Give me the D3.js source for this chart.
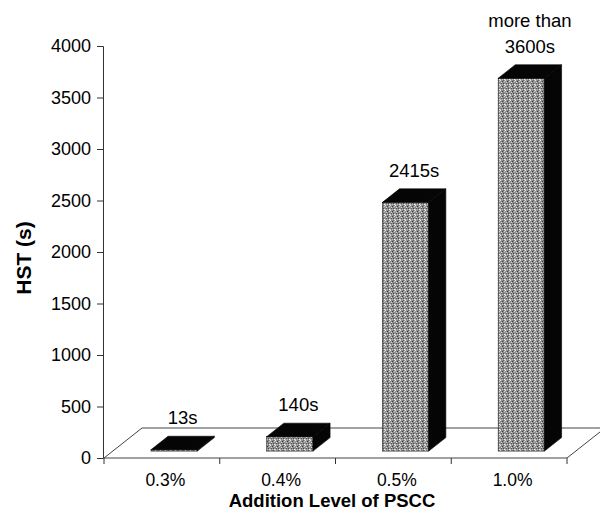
<!DOCTYPE html>
<html>
<head>
<meta charset="utf-8">
<script src="https://cdn.jsdelivr.net/npm/d3@7"></script>
<style>
  body { margin: 0; background: #fff; }
  text { font-family: Arial, "Liberation Sans", sans-serif; fill: #000; }
</style>
</head>
<body>
<svg id="chart" width="600" height="525"></svg>
<script>
(function () {
    'use strict';

    // data
    var categories = ['0.3%', '0.4%', '0.5%', '1.0%'];
    var values = [13, 140, 2415, 3620];
    var barLabels = [['13s'], ['140s'], ['2415s'], ['more than', '3600s']];
    var yTicks = [0, 500, 1000, 1500, 2000, 2500, 3000, 3500, 4000];

    var svg = d3.select('#chart');

    var x0 = 104, x1 = 567,
        yBase = 458, yTop = 46;

    // floor depth and where the bars sit inside it
    var floorDx = 38, floorDy = -30,
        frontFrac = 0.23, depthFrac = 0.45;

    var x = d3.scaleBand()
        .domain(categories)
        .range([x0, x1])
        .paddingInner(0.6)
        .paddingOuter(0.3)
        .align(0.55);

    var y = d3.scaleLinear()
        .domain([0, 4000])
        .range([yBase, yTop]);

    // speckled texture for the front faces
    var defs = svg.append('defs');
    var pat = defs.append('pattern')
        .attr('id', 'tex')
        .attr('patternUnits', 'userSpaceOnUse')
        .attr('width', 5)
        .attr('height', 5);
    pat.append('rect').attr('width', 5).attr('height', 5).attr('fill', '#8f8f8f');
    [[0, 0, '#e8e8e8'], [2, 1, '#3a3a3a'], [4, 1, '#cfcfcf'], [1, 2, '#d6d6d6'],
     [3, 3, '#4a4a4a'], [3, 0, '#6a6a6a'], [0, 4, '#c0c0c0'], [4, 4, '#f0f0f0'],
     [1, 3, '#5a5a5a'], [2, 4, '#b8b8b8']]
        .forEach(function (p) {
            pat.append('rect')
                .attr('x', p[0]).attr('y', p[1])
                .attr('width', 1).attr('height', 1)
                .attr('fill', p[2]);
        });

    // floor
    svg.append('polygon')
        .attr('points', [
            [x0, yBase], [x0 + floorDx, yBase + floorDy],
            [x1 + floorDx, yBase + floorDy], [x1, yBase]
        ].join(' '))
        .attr('fill', '#fff')
        .attr('stroke', '#444')
        .attr('stroke-width', 1);

    // x axis ticks at category boundaries
    var step = x.step();
    var bounds = d3.range(categories.length + 1).map(function (i) { return x0 + i * step; });
    svg.selectAll('.xtick')
        .data(bounds)
        .enter().append('line')
        .attr('x1', function (d) { return d; })
        .attr('x2', function (d) { return d; })
        .attr('y1', yBase)
        .attr('y2', yBase + 6)
        .attr('stroke', '#333');

    svg.selectAll('.xlab')
        .data(categories)
        .enter().append('text')
        .attr('x', function (d) { return x(d) + x.bandwidth() / 2; })
        .attr('y', 486)
        .attr('text-anchor', 'middle')
        .attr('font-size', 17.5)
        .text(function (d) { return d; });

    // bars
    var fdx = floorDx * frontFrac, fdy = floorDy * frontFrac,
        bdx = floorDx * depthFrac, bdy = floorDy * depthFrac,
        bw = x.bandwidth();

    var bars = svg.selectAll('.bar')
        .data(categories)
        .enter().append('g')
        .attr('class', 'bar');

    bars.each(function (c, i) {
        var g = d3.select(this),
            bx = x(c) + fdx,
            yb = yBase + fdy,
            yt = y(values[i]) + fdy;

        g.append('rect')
            .attr('x', bx)
            .attr('y', yt)
            .attr('width', bw)
            .attr('height', yb - yt)
            .attr('fill', 'url(#tex)')
            .attr('stroke', '#222')
            .attr('stroke-width', 0.6);

        g.append('polygon')
            .attr('points', [
                [bx + bw, yt], [bx + bw + bdx, yt + bdy],
                [bx + bw + bdx, yb + bdy], [bx + bw, yb]
            ].join(' '))
            .attr('fill', '#050505')
            .attr('stroke', '#000')
            .attr('stroke-width', 0.6);

        g.append('polygon')
            .attr('points', [
                [bx, yt], [bx + bdx, yt + bdy],
                [bx + bw + bdx, yt + bdy], [bx + bw, yt]
            ].join(' '))
            .attr('fill', '#050505')
            .attr('stroke', '#000')
            .attr('stroke-width', 0.6);

        var lines = barLabels[i];
        var lab = g.append('text')
            .attr('text-anchor', 'middle')
            .attr('font-size', 18.5)
            .attr('x', bx + bw / 2 + bdx / 2)
            .attr('y', yt + bdy - 12 - (lines.length - 1) * 26);
        lines.forEach(function (t, k) {
            lab.append('tspan')
                .attr('x', bx + bw / 2 + bdx / 2)
                .attr('dy', k === 0 ? 0 : 26)
                .text(t);
        });
    });

    // y axis
    var yAxis = d3.axisLeft(y)
        .tickValues(yTicks)
        .tickSize(6)
        .tickPadding(6)
        .tickFormat(d3.format('d'));

    var ya = svg.append('g')
        .attr('transform', 'translate(' + (x0 - 1) + ',0)')
        .call(yAxis);
    ya.select('.domain').attr('stroke', '#333');
    ya.selectAll('.tick line').attr('stroke', '#333');
    ya.selectAll('.tick text')
        .attr('font-size', 18)
        .attr('font-family', 'Arial, "Liberation Sans", sans-serif')
        .attr('fill', '#000');

    // axis titles
    svg.append('text')
        .attr('transform', 'translate(31,258) rotate(-90)')
        .attr('text-anchor', 'middle')
        .attr('font-size', 21)
        .attr('font-weight', 'bold')
        .text('HST (s)');

    svg.append('text')
        .attr('x', 332)
        .attr('y', 507)
        .attr('text-anchor', 'middle')
        .attr('font-size', 18.5)
        .attr('font-weight', 'bold')
        .text('Addition Level of PSCC');
}());
</script>
</body>
</html>
